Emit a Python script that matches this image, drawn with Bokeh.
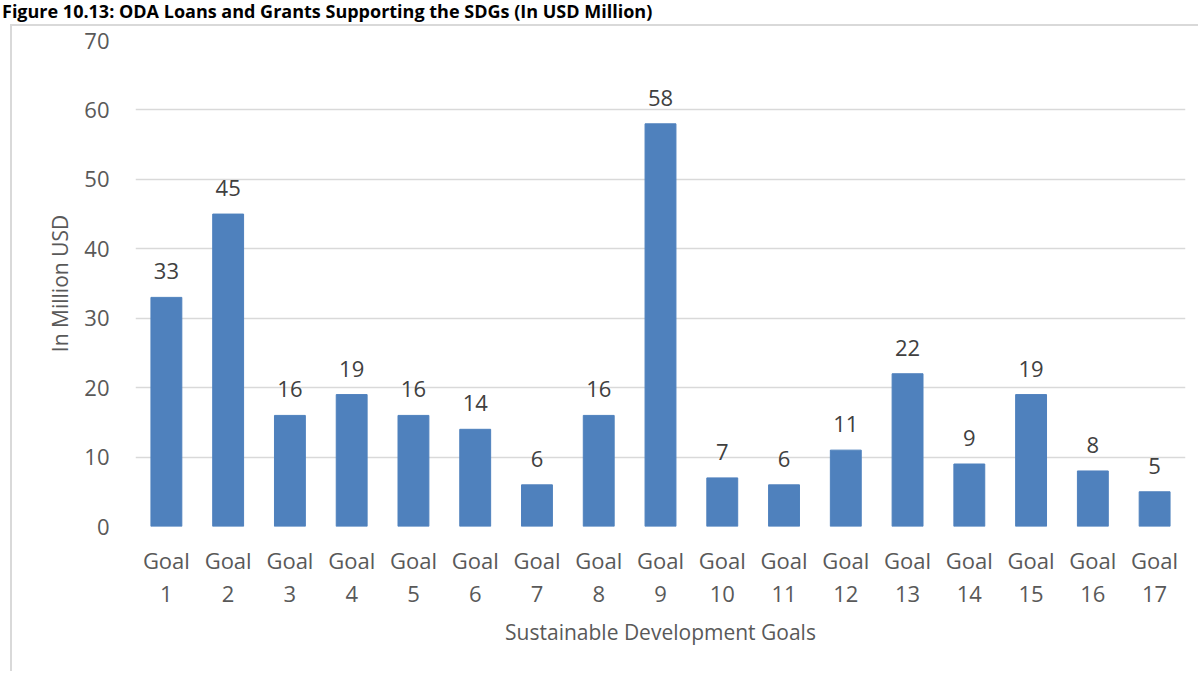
from bokeh.plotting import figure
from bokeh.models import FixedTicker, Label, Div
from bokeh.layouts import column
from bokeh.embed import file_html
from bokeh.resources import INLINE

goals = ["Goal 1", "Goal 2", "Goal 3", "Goal 4", "Goal 5", "Goal 6", "Goal 7", "Goal 8", "Goal 9",
         "Goal 10", "Goal 11", "Goal 12", "Goal 13", "Goal 14", "Goal 15", "Goal 16", "Goal 17"]
values = [33, 45, 16, 19, 16, 14, 6, 16, 58, 7, 6, 11, 22, 9, 19, 8, 5]
y_ticks = [0, 10, 20, 30, 40, 50, 60, 70]
title_text = "Figure 10.13: ODA Loans and Grants Supporting the SDGs (In USD Million)"
x_title = "Sustainable Development Goals"
y_title = "In Million USD"

FONT = "Open Sans"
BAR = "#4F81BD"
GRID = "#D9D9D9"
TXT = "#595959"

W, H = 1188, 647
p = figure(width=W, height=H, output_backend="svg", toolbar_location=None,
           x_range=(0.5, len(goals) + 0.5), y_range=(0, 70),
           min_border_left=123, min_border_right=15, min_border_top=14, min_border_bottom=147)
p.outline_line_color = None
p.background_fill_color = "white"
p.border_fill_color = "white"
p.styles = {"margin-left": "10px", "border-left": "2px solid #D9D9D9",
            "border-top": "2px solid #D9D9D9"}

xs = list(range(1, len(goals) + 1))
p.vbar(x=xs, top=values, width=0.5, fill_color=BAR, line_color=BAR)

# data labels
for x, v in zip(xs, values):
    p.add_layout(Label(x=x, y=v, text=str(v), text_align="center", text_baseline="alphabetic",
                       y_offset=26, text_font=FONT, text_font_size="22px", text_color="#404040"))

# axes
p.xaxis.ticker = FixedTicker(ticks=xs)
p.xaxis.major_label_overrides = {x: g.replace(" ", "\n") for x, g in zip(xs, goals)}
p.yaxis.ticker = FixedTicker(ticks=y_ticks)
for ax in (p.xaxis, p.yaxis):
    ax.axis_line_color = None
    ax.major_tick_line_color = None
    ax.minor_tick_line_color = None
    ax.major_label_text_font = FONT
    ax.major_label_text_font_size = "22px"
    ax.major_label_text_color = TXT
    ax.axis_label_text_font = FONT
    ax.axis_label_text_font_size = "21px"
    ax.axis_label_text_color = TXT
    ax.axis_label_text_font_style = "normal"
p.xaxis.major_label_text_line_height = 1.1
p.xaxis.major_label_standoff = 12
p.xaxis.axis_label = x_title
p.xaxis.axis_label_standoff = 7
p.yaxis.axis_label = y_title
p.yaxis.major_label_standoff = 20
p.yaxis.axis_label_standoff = 7

p.xgrid.grid_line_color = None
p.ygrid.grid_line_color = GRID
p.ygrid.grid_line_width = 1.5

title = Div(text=title_text, width=1200, height=24, margin=(0, 0, 0, 0),
            styles={"font-family": "Open Sans", "font-weight": "bold", "font-size": "18px",
                    "color": "black", "line-height": "22px", "white-space": "nowrap",
                    "margin-left": "2px"})

layout = column(title, p, spacing=0)
open("out.html", "w").write(file_html(layout, INLINE))
